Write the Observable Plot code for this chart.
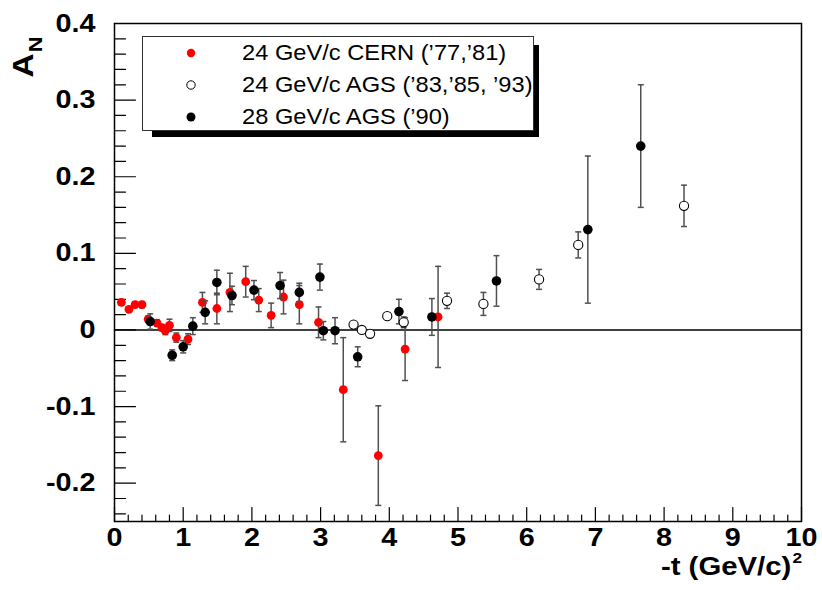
<!DOCTYPE html>
<html><head><meta charset="utf-8">
<script src="https://cdn.jsdelivr.net/npm/d3@7"></script>
<script src="https://cdn.jsdelivr.net/npm/@observablehq/plot@0.6"></script>
<style>
body{margin:0;background:#fff;}
#wrap{position:relative;width:822px;height:590px;}
.lgshadow{position:absolute;left:152px;top:45px;width:387px;height:92px;background:#000;}
.lgbox{position:absolute;left:142px;top:36px;width:390px;height:93px;background:#fff;border:1.5px solid #333;}
.row{position:absolute;left:0;height:30px;font-family:"Liberation Sans",Arial,sans-serif;font-size:21.5px;color:#000;white-space:nowrap;}
.row span.t{position:absolute;left:99px;top:50%;transform:translateY(-50%) scaleX(1.1);transform-origin:0 50%;}
.row svg{position:absolute;left:38px;top:5px;}
</style></head><body><div id="wrap"></div>
<script>
// 24 GeV/c CERN ('77,'81)
const cernT = [0.10,0.21,0.30,0.40,0.49,0.62,0.69,0.74,0.80,0.90,1.07,1.28,1.49,1.68,1.91,2.10,2.28,2.46,2.69,2.97,3.33,3.84,4.23,4.71];
const cernA = [0.036,0.027,0.033,0.033,0.014,0.009,0.003,-0.001,0.006,-0.010,-0.012,0.036,0.028,0.049,0.063,0.039,0.019,0.043,0.033,0.010,-0.078,-0.164,-0.025,0.017];
const cernE = [0.003,0.003,0.003,0.004,0.004,0.004,0.004,0.005,0.008,0.006,0.007,0.013,0.020,0.025,0.020,0.015,0.016,0.022,0.025,0.020,0.068,0.065,0.041,0.066];
// 24 GeV/c AGS ('83,'85,'93)
const agsT = [3.48,3.60,3.72,3.97,4.21,4.84,5.37,6.18,6.75,8.29];
const agsA = [0.007,0.000,-0.005,0.018,0.010,0.038,0.034,0.066,0.111,0.162];
const agsE = [0.003,0.003,0.003,0.004,0.007,0.010,0.015,0.013,0.017,0.027];
// 28 GeV/c AGS ('90)
const ags28T = [0.52,0.84,1.00,1.14,1.32,1.49,1.71,2.03,2.41,2.69,2.99,3.04,3.21,3.54,4.14,4.62,5.56,6.89,7.66];
const ags28A = [0.011,-0.033,-0.022,0.005,0.023,0.062,0.045,0.052,0.058,0.049,0.069,-0.001,-0.001,-0.035,0.024,0.017,0.064,0.131,0.240];
const ags28E = [0.010,0.007,0.008,0.011,0.015,0.016,0.012,0.0125,0.017,0.012,0.017,0.012,0.017,0.013,0.016,0.024,0.033,0.096,0.080];

const xMajor = d3.range(0, 11, 1);
const xMinor = d3.range(0, 10.001, 0.2).filter(v => Math.abs(v - Math.round(v)) > 1e-6);
const yMajor = [-0.2,-0.1,0,0.1,0.2,0.3,0.4];
const yMinor = d3.range(-24, 40, 2).map(v => v / 100).filter(v => Math.abs(v * 10 - Math.round(v * 10)) > 1e-6);

const legendLabels = ["24 GeV/c CERN (\u201977,\u201981)", "24 GeV/c AGS (\u201983,\u201985, \u201993)", "28 GeV/c AGS (\u201990)"];

const mk = (T, A, E) => T.map((t, i) => ({t, a: A[i], e: E[i]}));
const cern = mk(cernT, cernA, cernE);
const ags = mk(agsT, agsA, agsE);
const ags28 = mk(ags28T, ags28A, ags28E);

const tickShape = {draw(ctx, l) { ctx.moveTo(0, 0); ctx.lineTo(0, -l); }};
const capSymbol = {draw(ctx, size) { const r = Math.sqrt(size / Math.PI); ctx.moveTo(-r, 0); ctx.lineTo(r, 0); }};
const errCol = "#505050";

function errMarks(data) {
  return [
    Plot.ruleX(data, {x: "t", y1: d => d.a - d.e, y2: d => d.a + d.e, stroke: errCol, strokeWidth: 1.5}),
    Plot.dot(data, {x: "t", y: d => d.a + d.e, r: 3, symbol: capSymbol, fill: "none", stroke: errCol, strokeWidth: 1.5}),
    Plot.dot(data, {x: "t", y: d => d.a - d.e, r: 3, symbol: capSymbol, fill: "none", stroke: errCol, strokeWidth: 1.5})
  ];
}

const yMin = -0.25, yMax = 0.4;
const chart = Plot.plot({
  width: 822, height: 590,
  marginLeft: 114, marginTop: 23, marginRight: 21, marginBottom: 69,
  style: {fontFamily: "'Liberation Sans', Arial, sans-serif", fontSize: "25px", fontWeight: "bold", background: "#fff", color: "#000"},
  x: {domain: [0, 10]},
  y: {domain: [yMin, yMax]},
  marks: [
    Plot.ruleY([0], {stroke: "#000", strokeWidth: 1.5}),
    Plot.vector(yMajor, {x: () => 0, y: d => d, length: 21, rotate: 90, anchor: "start", shape: tickShape, stroke: "#000", strokeWidth: 1.2}),
    Plot.vector(yMinor, {x: () => 0, y: d => d, length: 11, rotate: 90, anchor: "start", shape: tickShape, stroke: "#000", strokeWidth: 1.2}),
    Plot.vector(xMajor, {x: d => d, y: () => yMin, length: 14, rotate: 0, anchor: "start", shape: tickShape, stroke: "#000", strokeWidth: 1.2}),
    Plot.vector(xMinor, {x: d => d, y: () => yMin, length: 6.5, rotate: 0, anchor: "start", shape: tickShape, stroke: "#000", strokeWidth: 1.2}),
    Plot.axisX({ticks: xMajor, tickSize: 0, tickPadding: 7, tickFormat: d => String(d), label: null}),
    Plot.axisY({ticks: yMajor, tickSize: 0, tickPadding: 19, tickFormat: d => d === 0 ? "0" : d.toFixed(1), label: null}),
    ...errMarks(cern),
    Plot.dot(cern, {x: "t", y: "a", r: 4.4, fill: "#ff0000", stroke: "none"}),
    ...errMarks(ags28),
    Plot.dot(ags28, {x: "t", y: "a", r: 4.8, fill: "#000", stroke: "none"}),
    ...errMarks(ags),
    Plot.dot(ags, {x: "t", y: "a", r: 4.6, fill: "#fff", stroke: "#000", strokeWidth: 1.1}),
    Plot.frame({stroke: "#000", strokeWidth: 1.5})
  ]
});

const svg = d3.select(chart);
svg.selectAll("g[aria-label$='tick label'] text").each(function() {
  const t = d3.select(this);
  const tr = t.attr("transform");
  if (tr) t.attr("transform", tr + " scale(1.15,1)");
  else {
    const x = +t.attr("x") || 0, y = +t.attr("y") || 0;
    t.attr("x", null).attr("y", null).attr("transform", `translate(${x},${y}) scale(1.15,1)`);
  }
});

const xt = svg.append("text").attr("transform", "translate(802,575) scale(1.15,1)").attr("text-anchor", "end")
  .attr("font-size", 25.5).attr("font-weight", "bold").attr("fill", "#000");
xt.append("tspan").text("-t (GeV/c)");
xt.append("tspan").attr("font-size", 15).attr("dy", -12).attr("dx", 1).text("2");

const yt = svg.append("text").attr("transform", "translate(33,57) rotate(-90) scale(1.15,1)")
  .attr("font-size", 29).attr("font-weight", "bold").attr("fill", "#000");
yt.append("tspan").text("A");
yt.append("tspan").attr("font-size", 19).attr("dy", 9).attr("dx", 1).text("N");

const wrap = document.getElementById("wrap");
wrap.appendChild(chart);

const sh = document.createElement("div"); sh.className = "lgshadow"; wrap.appendChild(sh);
const box = document.createElement("div"); box.className = "lgbox"; wrap.appendChild(box);
const styles = [{fill: "#ff0000", stroke: "none", r: 4.2}, {fill: "#fff", stroke: "#000", r: 4.2}, {fill: "#000", stroke: "none", r: 4.5}];
legendLabels.forEach((lab, i) => {
  const row = document.createElement("div");
  row.className = "row";
  row.style.top = (1 + i * 32) + "px";
  row.style.width = "100%";
  const s = styles[i];
  row.innerHTML = `<svg width="20" height="20"><circle cx="10" cy="10" r="${s.r}" fill="${s.fill}" stroke="${s.stroke}" stroke-width="1"/></svg><span class="t">${lab}</span>`;
  box.appendChild(row);
});
</script></body></html>
